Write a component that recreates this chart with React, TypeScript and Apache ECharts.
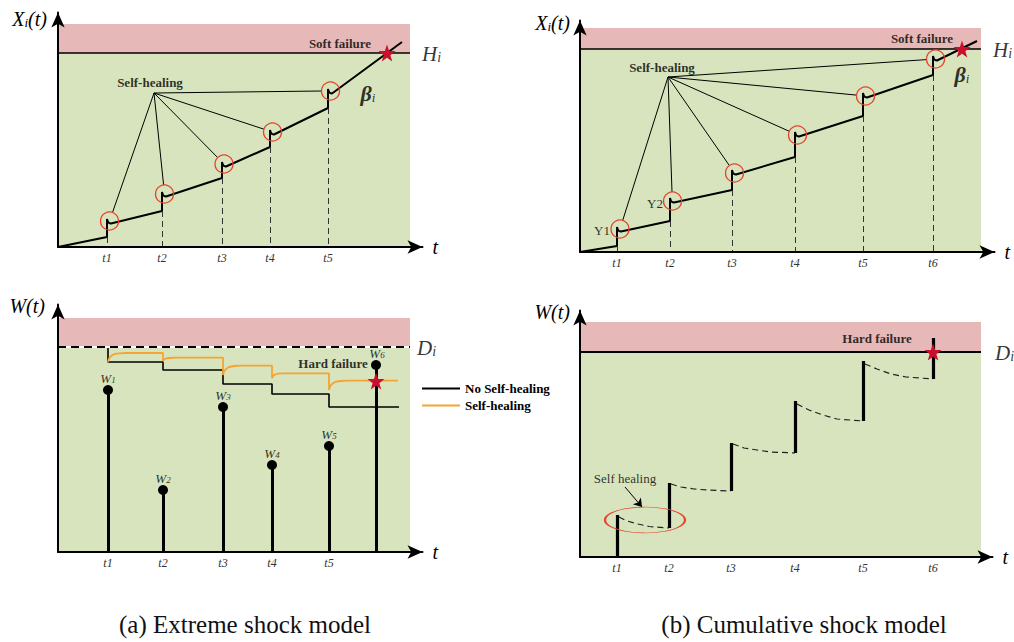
import React, { useEffect, useRef } from "react";
import * as echarts from "echarts";

const SERIF = '"Liberation Serif", "Times New Roman", Times, serif';
const PINK = "#e6b8b7";
const GREEN = "#d7e4bd";
const RED = "#e5432d";
const STAR_RED = "#c8102e";
const ORANGE = "#f5a431";
const STAR =
  "path://M50,0 L61.8,35.1 L97.6,34.5 L69,56.9 L79.4,90.5 L50,70 L20.6,90.5 L31,56.9 L2.4,34.5 L38.2,35.1 Z";

// ---------- (a) upper: degradation Xi(t), extreme shock model ----------
const aTopTicks = [49, 104, 164, 212, 270];
const aTopTickLabels = ["t1", "t2", "t3", "t4", "t5"];
const aTopPath = [
  [0, 0], [49, 10], [49, 28], [49.8, 25.5], [51, 24], [53, 23.5],
  [104, 36], [104, 55], [104.8, 52.5], [106, 51], [108, 50.5],
  [164, 69], [164, 85], [164.8, 82.5], [166, 81], [168, 80.5],
  [212, 100], [212, 117], [212.8, 114.5], [214, 113], [216, 112.5],
  [270, 139], [270, 158], [270.8, 155.5], [272, 154], [274, 153.5],
  [344, 205],
];
const aTopJumpBases = [[49, 10], [104, 36], [164, 69], [212, 100], [270, 139]];
const aTopCircles = [[51.5, 26], [106.5, 53], [166, 83], [214.5, 115], [272.5, 156]];
const aTopFan = [96, 154];
const aTopFanEnds = [[54.5, 34.5], [105.6, 62], [159.7, 89.4], [206, 117.8], [263.5, 156]];
const aTopHi = 194;
const aTopFailTop = 223;
const aTopEnd = 352;
const aTopStar = [329, 194];

// ---------- (b) upper: degradation Xi(t), cumulative shock model ----------
const bTopTicks = [37, 90, 152, 215, 283, 353];
const bTopTickLabels = ["t1", "t2", "t3", "t4", "t5", "t6"];
const bTopPath = [
  [0, 0], [37, 6], [37, 25], [37.8, 22.5], [39, 21], [41, 20.5],
  [90, 31], [90, 54], [90.8, 51.5], [92, 50], [94, 49.5],
  [152, 62], [152, 82], [152.8, 79.5], [154, 78], [156, 77.5],
  [215, 95], [215, 120], [215.8, 117.5], [217, 116], [219, 115.5],
  [283, 136], [283, 159], [283.8, 156.5], [285, 155], [287, 154.5],
  [353, 177], [353, 196], [353.8, 193.5], [355, 192], [357, 191.5],
  [397, 211],
];
const bTopJumpBases = [[37, 6], [90, 31], [152, 62], [215, 95], [283, 136], [353, 177]];
const bTopCircles = [[40, 23], [92.5, 51], [154.5, 79], [217.5, 117], [285.5, 156], [355.5, 193]];
const bTopFan = [88, 175];
const bTopFanEnds = [[42.7, 31.6], [92, 60], [149.4, 86.4], [209.3, 120.7], [276.5, 156.9], [346.5, 192.4]];
const bTopHi = 203;
const bTopFailTop = 224;
const bTopEnd = 401;
const bTopStar = [382, 203];

// ---------- (a) lower: shock magnitudes W(t) and hard threshold ----------
const aBotTicks = [50, 105, 165, 214, 271];
const aBotTickLabels = ["t1", "t2", "t3", "t4", "t5"];
const aBotShockTimes = [50, 105, 165, 214, 271, 318];
const aBotShockSizes = [162, 62, 145, 87, 106, 187];
const aBotShockNames = ["1", "2", "3", "4", "5", "6"];
const aBotNoHeal = [
  [50, 205], [50, 190], [105, 190], [105, 182], [165, 182], [165, 168],
  [214, 168], [214, 158], [271, 158], [271, 145], [341, 145],
];
const aBotHeal = [
  [50, 190], [51, 193.5], [53, 196], [56, 197.8], [61, 198.7], [68, 199], [105, 199],
  [105, 191], [106, 192.5], [108, 193.5], [111, 194], [118, 194.3], [165, 194.3],
  [165, 177], [166, 180.5], [168, 183], [171, 185], [176, 186], [183, 186.3], [214, 186.3],
  [214, 174], [215, 176], [217, 177.5], [220, 178.3], [226, 178.7], [271, 178.7],
  [271, 162], [272, 165.5], [274, 168], [277, 170], [282, 171], [290, 171.3], [340, 171.3],
];
const aBotDi = 205;
const aBotFailTop = 234;
const aBotEnd = 352;
const aBotStar = [318, 171];

// ---------- (b) lower: cumulative damage W(t) ----------
const bBotTicks = [37, 89, 151, 215, 283, 353];
const bBotTickLabels = ["t1", "t2", "t3", "t4", "t5", "t6"];
const bBotJumpLow = [0, 29, 66, 104, 136, 178];
const bBotJumpHigh = [42, 74, 114, 156, 196, 219];
const bBotRecovery = [
  [[39, 40], [47, 36], [58, 33], [69, 30.5], [89, 29]],
  [[91, 73], [101, 70], [114, 68], [127, 67], [151, 66]],
  [[153, 113], [164, 109], [177, 107], [191, 105], [215, 104]],
  [[217, 153], [229, 147], [243, 142], [257, 138], [283, 136]],
  [[285, 193], [297, 188], [311, 183], [326, 180], [353, 178]],
];
const bBotDi = 205;
const bBotFailTop = 235;
const bBotEnd = 401;
const bBotStar = [353, 205];

// ---------- layout ----------
const PANELS = [
  { ox: 58, oy: 247, xmax: 364.5, ymax: 234.5, yName: "{v|X}{s|i}{v|(t)}", yGap: -5.5, yPad: 11 },
  { ox: 580, oy: 252, xmax: 414.5, ymax: 231.5, yName: "{v|X}{s|i}{v|(t)}", yGap: -1.5, yPad: 10 },
  { ox: 58, oy: 552, xmax: 364.5, ymax: 247.5, yName: "{v|W(t)}", yGap: 0, yPad: 13 },
  { ox: 580, oy: 557, xmax: 412.5, ymax: 246.5, yName: "{v|W(t)}", yGap: 0, yPad: 10 },
];

const axisLine = {
  show: true,
  onZero: false,
  lineStyle: { color: "#000", width: 2 },
  symbol: ["none", "arrow"],
  symbolSize: [10, 15],
};

function xAxisFor(gi: number, ticks: number[], labels: string[]) {
  const p = PANELS[gi];
  return {
    type: "value",
    gridIndex: gi,
    min: 0,
    max: p.xmax,
    z: 10,
    axisLine,
    axisTick: { show: false },
    splitLine: { show: false },
    axisLabel: {
      show: true,
      customValues: ticks,
      formatter: (v: number) => {
        const i = ticks.indexOf(v);
        return i >= 0 ? labels[i] : "";
      },
      fontFamily: SERIF,
      fontStyle: "italic",
      fontSize: 12,
      color: "#333",
      margin: 5,
    },
    name: "t",
    nameLocation: "end",
    nameGap: 10,
    nameTextStyle: { fontFamily: SERIF, fontStyle: "italic", fontSize: 20, color: "#000" },
  };
}

const subRich = (big: number, small: number, bold = false) => ({
  v: {
    fontFamily: SERIF,
    fontStyle: "italic",
    fontWeight: bold ? "bold" : "normal",
    fontSize: big,
    lineHeight: big + 2,
    verticalAlign: "bottom",
    color: "#000",
  },
  s: {
    fontFamily: SERIF,
    fontStyle: "italic",
    fontSize: small,
    lineHeight: big + 2,
    verticalAlign: "bottom",
    color: "#000",
  },
});

function yAxisFor(gi: number) {
  const p = PANELS[gi];
  return {
    type: "value",
    gridIndex: gi,
    min: 0,
    max: p.ymax,
    z: 10,
    axisLine,
    axisTick: { show: false },
    axisLabel: { show: false },
    splitLine: { show: false },
    name: p.yName,
    nameLocation: "end",
    nameGap: p.yGap,
    nameTextStyle: {
      align: "right",
      verticalAlign: "middle",
      padding: [0, p.yPad, 0, 0],
      rich: subRich(20, 13),
    },
  };
}

function backdrop(gi: number, thr: number, top: number, right: number) {
  return {
    type: "line",
    name: "bg" + gi,
    xAxisIndex: gi,
    yAxisIndex: gi,
    data: [],
    silent: true,
    markArea: {
      silent: true,
      label: { show: false },
      itemStyle: { opacity: 1 },
      data: [
        [{ coord: [0, thr], itemStyle: { color: PINK, opacity: 1 } }, { coord: [right, top] }],
        [{ coord: [0, 0], itemStyle: { color: GREEN, opacity: 1 } }, { coord: [right, thr] }],
      ],
    },
  };
}

function segs(gi: number, name: string, pairs: number[][][], lineStyle: any, extra: any = {}) {
  return {
    type: "line",
    name,
    xAxisIndex: gi,
    yAxisIndex: gi,
    data: [],
    silent: true,
    markLine: {
      silent: true,
      symbol: ["none", "none"],
      label: { show: false },
      emphasis: { disabled: true },
      lineStyle,
      data: pairs.map(([a, b]) => [{ coord: a }, { coord: b }]),
      ...extra,
    },
  };
}

function path(gi: number, name: string, data: number[][], color: string, width: number, z = 3, type: any = "solid") {
  return {
    type: "line",
    name,
    xAxisIndex: gi,
    yAxisIndex: gi,
    data,
    symbol: "none",
    showSymbol: false,
    silent: true,
    z,
    itemStyle: { color },
    lineStyle: { color, width, type },
    emphasis: { disabled: true },
  };
}

function dots(gi: number, name: string, data: number[][], style: any, size: any, z = 6, symbol = "circle") {
  return {
    type: "scatter",
    name,
    xAxisIndex: gi,
    yAxisIndex: gi,
    data,
    symbol,
    symbolSize: size,
    itemStyle: { opacity: 1, ...style },
    silent: true,
    z,
    clip: false,
    emphasis: { disabled: true },
  };
}

type Note = { at: number[]; text: string; size?: number; bold?: boolean; italic?: boolean; align?: string; rich?: any };
function notes(gi: number, items: Note[]) {
  return {
    type: "scatter",
    name: "notes" + gi,
    xAxisIndex: gi,
    yAxisIndex: gi,
    symbolSize: 1,
    clip: false,
    silent: true,
    z: 20,
    itemStyle: { color: "rgba(0,0,0,0)" },
    emphasis: { disabled: true },
    data: items.map((it) => ({
      value: it.at,
      label: {
        show: true,
        position: "inside",
        formatter: it.text,
        align: it.align || "center",
        verticalAlign: "middle",
        fontFamily: SERIF,
        fontSize: it.size || 13,
        fontWeight: it.bold ? "bold" : "normal",
        fontStyle: it.italic ? "italic" : "normal",
        color: "#000",
        rich: it.rich,
      },
    })),
  };
}

const richH = subRich(21, 14);
const richBeta = subRich(22, 13, true);
const richW = subRich(13, 9);

const thinBlack = { color: "#000", width: 1, type: "solid" };
const dashed = { color: "#333", width: 1, type: [6, 4] };

function buildOption() {
  const series: any[] = [];

  // ---- panel 0 : (a) upper ----
  series.push(backdrop(0, aTopHi, aTopFailTop, aTopEnd));
  series.push(segs(0, "hi0", [[[0, aTopHi], [aTopEnd, aTopHi]]], { color: "#000", width: 1.5, type: "solid" }));
  series.push(segs(0, "drop0", aTopJumpBases.map((b) => [b, [b[0], 0]]), dashed));
  series.push(segs(0, "fan0", aTopFanEnds.map((e) => [aTopFan, e]), thinBlack));
  series.push(path(0, "path0", aTopPath, "#000", 2));
  series.push(dots(0, "circ0", aTopCircles, { color: "rgba(0,0,0,0)", borderColor: RED, borderWidth: 1.3 }, 18));
  series.push(dots(0, "star0", [aTopStar], { color: STAR_RED }, 17, 12, STAR));
  series.push(
    notes(0, [
      { at: [92, 165], text: "Self-healing", bold: true },
      { at: [282, 204], text: "Soft failure", bold: true },
      { at: [310, 155], text: "{v|β}{s|i}", rich: richBeta },
      { at: [364, aTopHi], text: "{v|H}{s|i}", align: "left", rich: richH },
    ])
  );

  // ---- panel 1 : (b) upper ----
  series.push(backdrop(1, bTopHi, bTopFailTop, bTopEnd));
  series.push(segs(1, "hi1", [[[0, bTopHi], [bTopEnd, bTopHi]]], { color: "#000", width: 1.5, type: "solid" }));
  series.push(segs(1, "drop1", bTopJumpBases.map((b) => [b, [b[0], 0]]), dashed));
  series.push(segs(1, "fan1", bTopFanEnds.map((e) => [bTopFan, e]), thinBlack));
  series.push(path(1, "path1", bTopPath, "#000", 2));
  series.push(dots(1, "circ1", bTopCircles, { color: "rgba(0,0,0,0)", borderColor: RED, borderWidth: 1.3 }, 18));
  series.push(dots(1, "star1", [bTopStar], { color: STAR_RED }, 17, 12, STAR));
  series.push(
    notes(1, [
      { at: [82, 185], text: "Self-healing", bold: true },
      { at: [342, 214], text: "Soft failure", bold: true },
      { at: [382, 179], text: "{v|β}{s|i}", rich: richBeta },
      { at: [413, bTopHi], text: "{v|H}{s|i}", align: "left", rich: richH },
      { at: [22, 22], text: "Y1", size: 13 },
      { at: [75, 49], text: "Y2", size: 13 },
    ])
  );

  // ---- panel 2 : (a) lower ----
  series.push(backdrop(2, aBotDi, aBotFailTop, aBotEnd));
  series.push(segs(2, "diw2", [[[0, aBotDi], [aBotEnd, aBotDi]]], { color: "#fff", width: 2, type: "solid" }));
  series.push(segs(2, "di2", [[[0, aBotDi], [aBotEnd, aBotDi]]], { color: "#000", width: 2, type: [8, 5] }));
  series.push(path(2, "No Self-healing", aBotNoHeal, "#000", 1.6, 3));
  series.push(path(2, "Self-healing", aBotHeal, ORANGE, 1.8, 3));
  series.push(
    segs(
      2,
      "stems2",
      aBotShockTimes.map((t, i) => [[t, 0], [t, aBotShockSizes[i]]]),
      { color: "#000", width: 3, type: "solid" }
    )
  );
  series.push(dots(2, "heads2", aBotShockTimes.map((t, i) => [t, aBotShockSizes[i]]), { color: "#000" }, 10, 8));
  series.push(dots(2, "star2", [aBotStar], { color: STAR_RED }, 17, 12, STAR));
  series.push(
    notes(2, [
      ...aBotShockTimes.map((t, i) => ({
        at: [t + (i === 5 ? 1 : 0), aBotShockSizes[i] + 13],
        text: "{v|W}{s|" + aBotShockNames[i] + "}",
        rich: richW,
      })),
      { at: [275, 189], text: "Hard failure", bold: true },
      { at: [359, aBotDi], text: "{v|D}{s|i}", align: "left", rich: richH },
    ])
  );

  // ---- panel 3 : (b) lower ----
  series.push(backdrop(3, bBotDi, bBotFailTop, bBotEnd));
  series.push(segs(3, "di3", [[[0, bBotDi], [bBotEnd, bBotDi]]], { color: "#000", width: 1.8, type: "solid" }));
  series.push(
    segs(
      3,
      "jumps3",
      bBotTicks.map((t, i) => [[t, bBotJumpLow[i]], [t, bBotJumpHigh[i]]]),
      { color: "#000", width: 3.2, type: "solid" }
    )
  );
  bBotRecovery.forEach((seg, i) => series.push(path(3, "rec3_" + i, seg, "#222", 1.2, 3, [6, 4])));
  series.push(
    dots(3, "ellipse3", [[65, 37]], { color: "rgba(0,0,0,0)", borderColor: RED, borderWidth: 1.3 }, [80, 26], 6)
  );
  series.push(
    segs(3, "arrow3", [[[45, 70], [62, 50]]], { color: "#000", width: 1, type: "solid" }, {
      symbol: ["none", "arrow"],
      symbolSize: 8,
    })
  );
  series.push(dots(3, "star3", [bBotStar], { color: STAR_RED }, 17, 12, STAR));
  series.push(
    notes(3, [
      { at: [45, 79], text: "Self healing", size: 13 },
      { at: [297, 219], text: "Hard failure", bold: true },
      { at: [415, bBotDi], text: "{v|D}{s|i}", align: "left", rich: richH },
    ])
  );

  return {
    animation: false,
    backgroundColor: "#fff",
    grid: PANELS.map((p) => ({
      left: p.ox,
      top: p.oy - p.ymax,
      width: p.xmax,
      height: p.ymax,
      containLabel: false,
      outerBoundsMode: "none",
    })),
    xAxis: [
      xAxisFor(0, aTopTicks, aTopTickLabels),
      xAxisFor(1, bTopTicks, bTopTickLabels),
      xAxisFor(2, aBotTicks, aBotTickLabels),
      xAxisFor(3, bBotTicks, bBotTickLabels),
    ],
    yAxis: [yAxisFor(0), yAxisFor(1), yAxisFor(2), yAxisFor(3)],
    legend: {
      show: true,
      data: ["No Self-healing", "Self-healing"],
      left: 417,
      top: 377,
      orient: "vertical",
      icon: "rect",
      itemWidth: 38,
      itemHeight: 2,
      itemGap: 4,
      selectedMode: false,
      textStyle: { fontFamily: SERIF, fontWeight: "bold", fontSize: 13, color: "#000" },
    },
    graphic: [
      {
        type: "text",
        x: 245,
        y: 624,
        style: {
          text: "(a) Extreme shock model",
          fontFamily: SERIF,
          fontSize: 25,
          fill: "#111",
          align: "center",
          verticalAlign: "middle",
        },
      },
      {
        type: "text",
        x: 804,
        y: 624,
        style: {
          text: "(b) Cumulative shock model",
          fontFamily: SERIF,
          fontSize: 25,
          fill: "#111",
          align: "center",
          verticalAlign: "middle",
        },
      },
    ],
    series,
  };
}

export default function App() {
  const ref = useRef<HTMLDivElement>(null);
  useEffect(() => {
    document.body.style.margin = "0";
    const chart = echarts.init(ref.current!, undefined, { renderer: "svg" });
    chart.setOption(buildOption() as any);
    return () => chart.dispose();
  }, []);
  return <div ref={ref} style={{ width: 1014, height: 642 }} />;
}
